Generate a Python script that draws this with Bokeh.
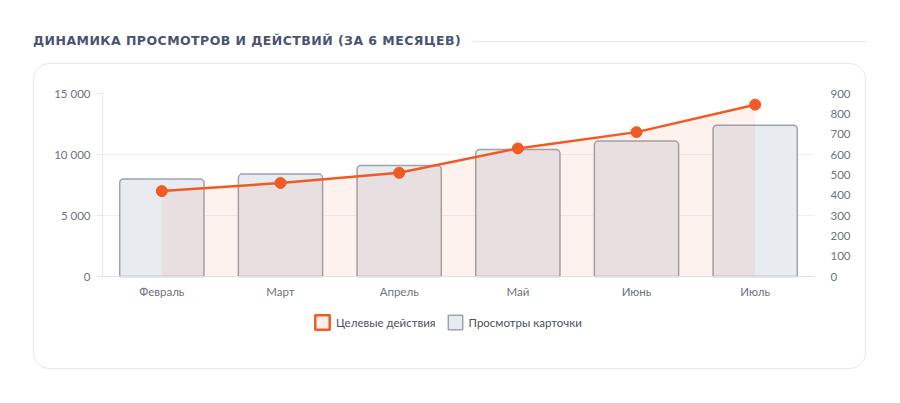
from bokeh.plotting import figure
from bokeh.models import (Range1d, FactorRange, LinearAxis, FixedTicker, CustomJSTickFormatter,
                          Legend, LegendItem, ColumnDataSource, Div)
from bokeh.layouts import column
from bokeh.embed import file_html
from bokeh.resources import INLINE

# ---- data ----
months = ["Февраль", "Март", "Апрель", "Май", "Июнь", "Июль"]
views = [8000, 8400, 9100, 10400, 11100, 12400]        # Просмотры карточки (left axis)
actions = [420, 460, 510, 630, 710, 845]                # Целевые действия (right axis)
left_ticks = [0, 5000, 10000, 15000]
right_ticks = [0, 100, 200, 300, 400, 500, 600, 700, 800, 900]
title_text = "ДИНАМИКА ПРОСМОТРОВ И ДЕЙСТВИЙ (ЗА 6 МЕСЯЦЕВ)"
label_actions = "Целевые действия"
label_views = "Просмотры карточки"

ORANGE = "#f05a24"
BAR_FILL = "#e8ebf0"
BAR_LINE = "#9ea3ad"
TICK_COLOR = "#6e7380"
GRID = "#eef0f3"
FONT = "Lato"

# layout geometry (pixels)
FIG_H = 306
BORDER_TOP = 29
BORDER_BOTTOM = 30
PLOT_H = 183                     # height of the 0..max part of the plot
frame_h = FIG_H - BORDER_TOP - BORDER_BOTTOM
below_frac = (frame_h - PLOT_H) / PLOT_H   # extra room under zero for the legend

src = ColumnDataSource(dict(month=months, views=views, actions=actions, zero=[0] * len(months)))

heading = Div(
    text=(
        '<div style="display:flex;align-items:center;width:833px;height:30px;">'
        f'<span style="font-family:\'DejaVu Sans\';font-weight:bold;font-size:12.5px;'
        f'letter-spacing:0.45px;color:#4a5470;white-space:nowrap;">{title_text}</span>'
        '<div style="flex:1;height:1px;background:#e3e7ee;margin-left:12px;"></div></div>'
    ),
    width=833, height=30, margin=(26, 0, 0, 33),
)

LMAX, RMAX = left_ticks[-1], right_ticks[-1]
p = figure(
    x_range=FactorRange(*months, range_padding=0),
    y_range=Range1d(-LMAX * below_frac, LMAX),
    width=833, height=FIG_H,
    output_backend="svg", toolbar_location=None,
    min_border_left=68, min_border_right=53, min_border_top=BORDER_TOP, min_border_bottom=BORDER_BOTTOM,
    margin=(7, 0, 0, 33),
)
p.styles = {"border": "1px solid #e4e8ef", "border-radius": "16px"}
p.background_fill_alpha = 0
p.border_fill_alpha = 0
p.outline_line_color = None
p.extra_y_ranges = {"right": Range1d(-RMAX * below_frac, RMAX)}

# bars
bars = p.vbar(x="month", top="views", width=0.71, source=src,
              fill_color=BAR_FILL, line_color=BAR_LINE, line_width=1.5,
              border_radius=(4, 4, 0, 0))
# area under the line
p.varea(x="month", y1="zero", y2="actions", source=src, y_range_name="right",
        fill_color=ORANGE, fill_alpha=0.08)
# line and points
p.line(x="month", y="actions", source=src, y_range_name="right",
       line_color=ORANGE, line_width=2.5)
p.scatter(x="month", y="actions", source=src, y_range_name="right",
          size=11, fill_color=ORANGE, line_color=ORANGE)
# legend proxy (not visible in plot)
proxy = p.vbar(x="month", top="actions", width=0.5, source=src, y_range_name="right",
               fill_color="#fdf0ea", line_color=ORANGE, line_width=2.5, visible=False)

# axes
xa = p.xaxis[0]
xa.fixed_location = 0
xa.axis_line_color = "#dcdfe4"
xa.major_tick_line_color = None
xa.minor_tick_line_color = None
xa.major_label_text_color = TICK_COLOR
xa.major_label_text_font = FONT
xa.major_label_text_font_size = "11.5px"
xa.major_label_standoff = 2

ya = p.yaxis[0]
ya.ticker = FixedTicker(ticks=left_ticks)
ya.bounds = (0, LMAX)
ya.formatter = CustomJSTickFormatter(code="return tick.toString().replace(/\\B(?=(\\d{3})+(?!\\d))/g, ' ');")
ya.axis_line_color = "#e6e8ec"
ya.major_tick_line_color = "#e6e8ec"
ya.major_tick_out = 6
ya.major_tick_in = 0
ya.minor_tick_line_color = None
ya.major_label_text_color = TICK_COLOR
ya.major_label_text_font = FONT
ya.major_label_text_font_size = "11.5px"
ya.major_label_standoff = 6

ra = LinearAxis(y_range_name="right", ticker=FixedTicker(ticks=right_ticks), bounds=(0, RMAX))
ra.axis_line_color = None
ra.major_tick_line_color = None
ra.minor_tick_line_color = None
ra.major_label_text_color = TICK_COLOR
ra.major_label_text_font = FONT
ra.major_label_text_font_size = "11.5px"
ra.major_label_standoff = 10
p.add_layout(ra, "right")

p.xgrid.grid_line_color = None
p.ygrid.grid_line_color = GRID
p.ygrid.ticker = FixedTicker(ticks=left_ticks)

legend = Legend(items=[LegendItem(label=label_actions, renderers=[proxy]),
                       LegendItem(label=label_views, renderers=[bars])],
                orientation="horizontal", location=(211, 9),
                border_line_color=None, background_fill_alpha=0,
                label_text_font=FONT, label_text_font_size="11.5px", label_text_color="#4b5160",
                glyph_width=18, glyph_height=18, label_standoff=5, spacing=10,
                padding=2, margin=0)
p.add_layout(legend, "center")

layout = column(heading, p)
open("out.html", "w").write(file_html(layout, INLINE))
